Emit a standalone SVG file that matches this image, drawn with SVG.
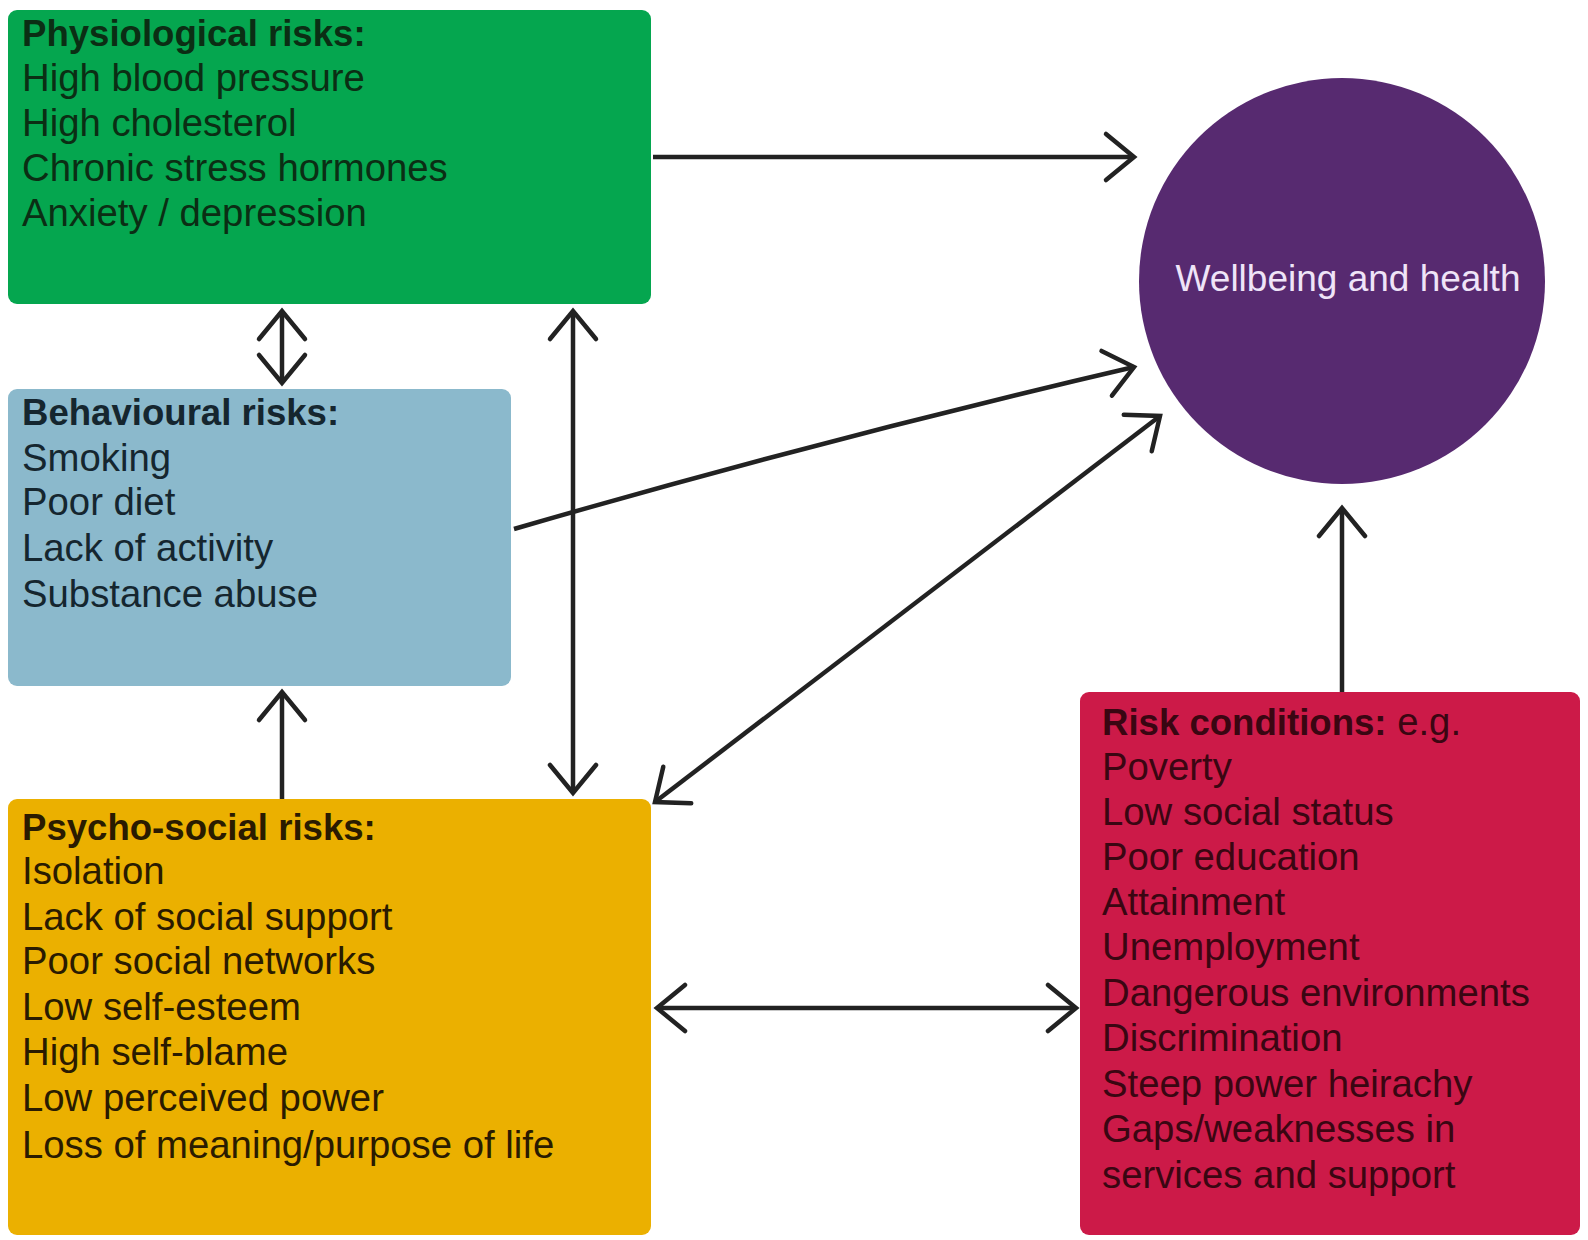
<svg xmlns="http://www.w3.org/2000/svg" width="1588" height="1240" viewBox="0 0 1588 1240">
<defs>
<style>
text{font-family:"Liberation Sans",Arial,sans-serif;font-size:38.3px;}
.t{font-weight:bold;font-size:36.6px;}
.c{stroke:#222;stroke-width:4.5;fill:none;}
</style>
<marker id="ah" markerUnits="userSpaceOnUse" viewBox="-34 -28 40 56" refX="0" refY="0" markerWidth="40" markerHeight="56" orient="auto-start-reverse">
<path d="M-28,-23 L0,0 L-28,23" fill="none" stroke="#222" stroke-width="4.5" stroke-linecap="round"/>
</marker>
</defs>
<rect width="1588" height="1240" fill="#ffffff"/>
<g id="physiological">
<rect x="8" y="10" width="643" height="294" rx="9" fill="#05a64f"/>
<g fill="#0b2e14">
<text x="22" y="46" class="t">Physiological risks:</text>
<text x="22" y="91">High blood pressure</text>
<text x="22" y="136">High cholesterol</text>
<text x="22" y="181">Chronic stress hormones</text>
<text x="22" y="226">Anxiety / depression</text>
</g>
</g>
<g id="behavioural">
<rect x="8" y="389" width="503" height="297" rx="9" fill="#8bb9cc"/>
<g fill="#15262f">
<text x="22" y="425" class="t">Behavioural risks:</text>
<text x="22" y="471">Smoking</text>
<text x="22" y="515">Poor diet</text>
<text x="22" y="561">Lack of activity</text>
<text x="22" y="607">Substance abuse</text>
</g>
</g>
<g id="psychosocial">
<rect x="8" y="799" width="643" height="436" rx="9" fill="#ebb000"/>
<g fill="#2a1b00">
<text x="22" y="840" class="t">Psycho-social risks:</text>
<text x="22" y="884">Isolation</text>
<text x="22" y="930">Lack of social support</text>
<text x="22" y="974">Poor social networks</text>
<text x="22" y="1020">Low self-esteem</text>
<text x="22" y="1065">High self-blame</text>
<text x="22" y="1111">Low perceived power</text>
<text x="22" y="1158">Loss of meaning/purpose of life</text>
</g>
</g>
<g id="riskconditions">
<rect x="1080" y="692" width="500" height="543" rx="9" fill="#cc1a48"/>
<g fill="#3a0612">
<text x="1102" y="735"><tspan class="t">Risk conditions:</tspan> e.g.</text>
<text x="1102" y="780">Poverty</text>
<text x="1102" y="825">Low social status</text>
<text x="1102" y="870">Poor education</text>
<text x="1102" y="915">Attainment</text>
<text x="1102" y="960">Unemployment</text>
<text x="1102" y="1006">Dangerous environments</text>
<text x="1102" y="1051">Discrimination</text>
<text x="1102" y="1097">Steep power heirachy</text>
<text x="1102" y="1142">Gaps/weaknesses in</text>
<text x="1102" y="1188">services and support</text>
</g>
</g>
<g id="wellbeing">
<circle cx="1342" cy="281" r="203" fill="#572a70"/>
<text x="1348" y="291" text-anchor="middle" fill="#efe4f8" style="font-size:37px">Wellbeing and health</text>
</g>
<g id="connectors">
<line class="c" x1="653" y1="157" x2="1134" y2="157" marker-end="url(#ah)"/>
<line class="c" x1="282" y1="311" x2="282" y2="383" marker-start="url(#ah)" marker-end="url(#ah)"/>
<line class="c" x1="573" y1="311" x2="573" y2="793" marker-start="url(#ah)" marker-end="url(#ah)"/>
<path class="c" d="M514,529 Q820,440 1134,367" marker-end="url(#ah)"/>
<line class="c" x1="655" y1="802" x2="1160" y2="416" marker-start="url(#ah)" marker-end="url(#ah)"/>
<line class="c" x1="1342" y1="692" x2="1342" y2="508" marker-end="url(#ah)"/>
<line class="c" x1="657" y1="1008" x2="1076" y2="1008" marker-start="url(#ah)" marker-end="url(#ah)"/>
<line class="c" x1="282" y1="799" x2="282" y2="692" marker-end="url(#ah)"/>
</g>
</svg>
